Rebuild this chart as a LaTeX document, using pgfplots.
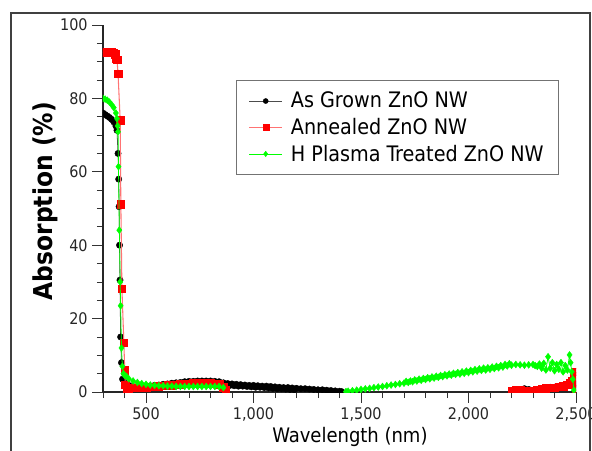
\documentclass[border=0pt]{standalone}
\usepackage{fontspec}
\setmainfont{DejaVu Sans Condensed}
\usepackage{pgfplots}
\usepackage{pgfplotstable}
\pgfplotsset{compat=1.18}
\definecolor{lgreen}{RGB}{0,255,0}
\definecolor{lred}{RGB}{255,0,0}

\pgfplotstableread{
x y
300 76.0
310 75.6
320 75.2
330 74.8
340 74.3
350 73.6
360 72.5
365 71.3
370 65.0
373 58.0
375 50.5
377 40.0
379 30.5
382 15.0
386 8.0
391 3.5
400 2.5
420 1.8
440 1.5
460 1.4
480 1.4
500 1.5
520 1.6
540 1.8
560 1.9
580 2.1
600 2.2
620 2.4
640 2.5
660 2.6
680 2.8
700 2.9
720 2.9
740 3.0
760 3.0
780 3.0
800 3.0
820 2.9
840 2.8
860 2.5
870 2.0
880 2.3
890 1.8
900 2.2
910 1.7
920 2.1
930 1.6
940 2.0
950 1.6
960 1.9
970 1.5
980 1.8
990 1.4
1000 1.8
1010 1.3
1020 1.7
1030 1.3
1040 1.6
1050 1.2
1060 1.6
1070 1.1
1080 1.5
1090 1.0
1100 1.4
1110 0.9
1120 1.3
1130 0.9
1140 1.2
1150 0.8
1160 1.2
1170 0.7
1180 1.1
1190 0.6
1200 1.0
1220 0.9
1240 0.9
1260 0.8
1280 0.7
1300 0.6
1320 0.6
1340 0.5
1360 0.4
1380 0.3
1400 0.2
1410 0.1
1420 nan
2200 0.3
2220 0.5
2240 0.7
2260 0.9
2280 0.7
2300 0.2
2320 0.4
2340 0.8
2360 1.2
2380 1.3
2400 1.3
2420 1.4
2440 1.6
2460 1.8
2480 2.0
2500 2.2
}\asgrown

\pgfplotstableread{
x y
300 92.5
310 92.6
320 92.6
330 92.5
340 92.6
350 92.4
356 92.0
360 91.0
365 90.5
370 86.8
380 74.0
383 51.2
388 28.2
397 13.4
401 6.0
404 2.0
410 0.5
420 0.8
440 1.1
460 1.2
480 1.3
500 1.3
520 1.4
540 1.5
560 1.6
580 1.7
600 1.8
620 1.9
640 2.0
660 2.1
680 2.2
700 2.3
720 2.4
740 2.4
760 2.4
780 2.4
800 2.4
820 2.3
840 2.1
860 1.3
870 0.6
880 nan
2200 0.4
2220 0.6
2240 0.5
2260 0.3
2280 0.2
2300 0.2
2320 0.6
2340 0.9
2360 1.0
2380 1.1
2400 1.2
2420 1.4
2440 1.6
2460 2.0
2470 2.5
2480 3.0
2490 4.5
2495 5.5
2500 0.8
}\annealed

\pgfplotstableread{
x y
300 80.0
310 79.8
320 79.5
330 79.0
340 78.3
350 77.5
360 76.0
365 74.5
368 72.5
370 70.9
372 61.4
376 44.1
380 30.0
382 23.5
386 12.0
390 7.0
395 5.0
400 4.6
410 4.2
420 3.6
440 3.0
460 2.6
480 2.3
500 2.1
520 1.9
540 1.8
560 1.7
580 1.7
600 1.6
620 1.6
640 1.5
660 1.5
680 1.5
700 1.5
720 1.5
740 1.5
760 1.5
780 1.5
800 1.5
820 1.5
840 1.5
860 1.2
870 nan
1430 0.1
1440 0.2
1460 0.35
1480 0.5
1500 0.7
1520 0.85
1540 1.0
1560 1.2
1580 1.35
1600 1.5
1620 1.7
1640 1.9
1660 2.05
1680 2.25
1700 2.4
1710 2.9
1720 2.6
1730 3.0
1740 2.8
1750 3.3
1760 3.0
1770 3.5
1780 3.2
1790 3.7
1800 3.4
1810 3.9
1820 3.6
1830 4.1
1840 3.8
1850 4.3
1860 4.0
1870 4.5
1880 4.2
1890 4.7
1900 4.4
1910 4.9
1920 4.6
1930 5.1
1940 4.8
1950 5.3
1960 4.9
1970 5.5
1980 5.1
1990 5.7
2000 5.3
2010 5.9
2020 5.5
2030 6.1
2040 5.7
2050 6.3
2060 5.9
2070 6.5
2080 6.0
2090 6.6
2100 6.2
2110 6.8
2120 6.4
2130 7.0
2140 6.6
2150 7.2
2160 6.8
2170 7.5
2180 7.1
2190 7.7
2200 7.3
2220 7.5
2240 7.4
2260 7.3
2280 7.4
2300 7.5
2310 7.2
2320 7.0
2330 7.6
2340 6.5
2350 7.8
2360 6.0
2370 9.6
2380 6.5
2390 8.0
2400 5.8
2410 7.5
2420 6.2
2430 8.0
2440 5.5
2450 7.2
2460 6.0
2470 10.1
2475 8.0
2480 5.5
2485 3.5
2490 0.5
}\hplasma

\begin{document}
\begin{tikzpicture}[x=1pt,y=1pt]
\begin{axis}[
  at={(0,0)}, anchor=south west,
  scale only axis, width=354.75pt, height=275.25pt,
  xmin=300, xmax=2500, ymin=0, ymax=100,
  axis x line*=bottom, axis y line*=left,
  axis line style={black!85, line width=0.8pt},
  xtick={500,1000,...,2500}, minor xtick={300,400,...,2500},
  ytick={0,20,...,100}, minor ytick={0,5,...,100},
  tick align=outside,
  major tick length=8pt, minor tick length=4.5pt,
  every tick/.style={black!80, line width=0.6pt},
  /pgf/number format/.cd, 1000 sep={,}, assume math mode=true, /pgfplots/.cd,
  tick label style={font=\fontsize{12}{14}\selectfont, text=black!85},
  xlabel={Wavelength (nm)}, ylabel={\bfseries Absorption (\%)},
  xlabel style={font=\fontsize{15}{17}\selectfont, at={(axis description cs:0.522,-0.122)}, anchor=center},
  ylabel style={font=\fontsize{19.5}{21}\selectfont, at={(axis description cs:-0.1226,0.52)}, anchor=center},
  unbounded coords=jump,
  clip marker paths=true,
  legend style={at={(0.281,0.85)}, anchor=north west, draw=black!55, line width=0.9pt,
    font=\fontsize{16}{19}\selectfont, inner xsep=9pt, inner ysep=6.6pt, row sep=2.25pt},
  legend cell align=left,
  legend image code/.code={\draw[mark repeat=2,mark phase=2, every mark/.append style={scale=0.8}] plot coordinates {(0pt,0pt) (12.5pt,0pt) (25pt,0pt)}; \path (29pt,0pt);},
]
\addplot[black!70, line width=0.6pt, mark=*, mark size=2.4pt, mark options={fill=black, draw=black, line width=0.3pt}] table[x=x,y=y] {\asgrown};
\addlegendentry{As Grown ZnO NW}
\addplot[lred!55, line width=0.8pt, mark=square*, mark size=2.8pt, mark options={fill=lred, draw=lred, line width=0.3pt}] table[x=x,y=y] {\annealed};
\addlegendentry{Annealed ZnO NW}
\addplot[lgreen, line width=0.6pt, mark=diamond*, mark size=2.6pt, mark options={fill=lgreen, draw=lgreen, line width=0.3pt}] table[x=x,y=y] {\hplasma};
\addlegendentry{H Plasma Treated ZnO NW}
\end{axis}
\draw[line width=1.5pt, black!75] (-69,-60) -- (-69,284.25) -- (365.25,284.25) -- (365.25,-60);
\pgfresetboundingbox
\useasboundingbox (-77.25,-43.5) rectangle (366.75,294);
\end{tikzpicture}
\end{document}
